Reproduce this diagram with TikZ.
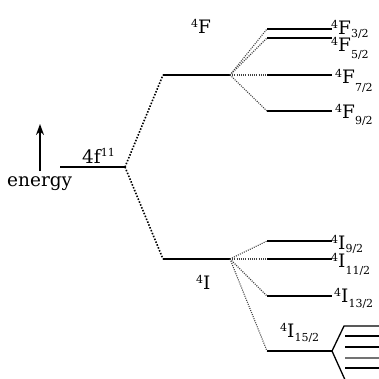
\documentclass[tikz,border=0pt]{standalone}
\usepackage{fontspec}
\setmainfont{DejaVu Serif}
\usetikzlibrary{arrows.meta}
\newcommand\fsmall{\fontsize{11}{11}\selectfont}
\newcommand\fbig{\fontsize{18.5}{18.5}\selectfont}
\newcommand\term[4]{\raisebox{5.5pt}{\fsmall #1}#2\raisebox{-#4pt}{\fsmall #3}}
\begin{document}
\begin{tikzpicture}[x=1pt,y=-1pt,
  lev/.style={line width=2pt},
  thin lev/.style={line width=1.3pt},
  dotmain/.style={line width=1.6pt, dash pattern=on 1.5pt off 1.6pt},
  dotfan/.style={line width=1.1pt, dash pattern=on 1pt off 1.2pt, black!75},
  lbl/.style={inner sep=0pt, anchor=base west, font=\fbig}]
\useasboundingbox (0,0) rectangle (379,378);
% coordinates of levels
\coordinate (b0) at (60,167);  \coordinate (b1) at (125,167);
\coordinate (F0) at (163,75);  \coordinate (F1) at (230,75);
\coordinate (I0) at (163,259); \coordinate (I1) at (230,259);
\foreach \n/\y in {f32/29, f52/38, f72/75, f92/111, i92/241, i112/259, i132/296, i152/351}{
  \coordinate (\n a) at (267,\y);
  \coordinate (\n b) at (332,\y);
}
% main levels
\draw[lev] (b0) -- (b1);
\draw[lev] (F0) -- (F1);
\draw[lev] (I0) -- (I1);
\foreach \n in {f32, f52, f72, f92, i92, i112, i132, i152}{
  \draw[lev] (\n a) -- (\n b);
}
% connectors
\draw[dotmain] (b1) -- (F0);
\draw[dotmain] (b1) -- (I0);
\foreach \n in {f32, f52, f72, f92}{ \draw[dotfan] (F1) -- (\n a); }
\foreach \n in {i92, i112, i132, i152}{ \draw[dotfan] (I1) -- (\n a); }
% Stark splitting
\coordinate (s1) at (344,326); \coordinate (s1e) at (379,326);
\coordinate (s6) at (346,382);
\draw[thin lev] (i152b) -- (s1) -- (s1e);
\draw[thin lev] (i152b) -- (s6);
\foreach \y/\c in {336/black, 347/black, 358/black!55, 368/black}{
  \coordinate (t\y) at (345,\y); \coordinate (u\y) at (379,\y);
  \draw[thin lev, \c] (t\y) -- (u\y);
}
% energy arrow
\coordinate (e0) at (40,171); \coordinate (e1) at (40,124);
\draw[line width=1.6pt, -{Stealth[length=11pt,width=8pt]}] (e0) -- (e1);
% labels
\node[lbl] (energy) at (7,186) {energy};
\node[lbl] (conf) at (82,163) {4f\raisebox{6.5pt}{\fsmall 11}};
\node[lbl] (tF) at (191,33) {\term{4}{F}{}{0}};
\node[lbl] (tI) at (196,289) {\term{4}{I}{}{0}};
\node[lbl] (lf32) at (331,34) {\term{4}{F}{3/2}{3}};
\node[lbl] (lf52) at (331,51) {\term{4}{F}{5/2}{7}};
\node[lbl] (lf72) at (335,83) {\term{4}{F}{7/2}{8}};
\node[lbl] (lf92) at (335,118) {\term{4}{F}{9/2}{6}};
\node[lbl] (li92) at (331,249) {\term{4}{I}{9/2}{3}};
\node[lbl] (li112) at (331,267) {\term{4}{I}{11/2}{7}};
\node[lbl] (li132) at (334,302) {\term{4}{I}{13/2}{5}};
\node[lbl] (li152) at (280,337) {\term{4}{I}{15/2}{4}};
\end{tikzpicture}
\end{document}
